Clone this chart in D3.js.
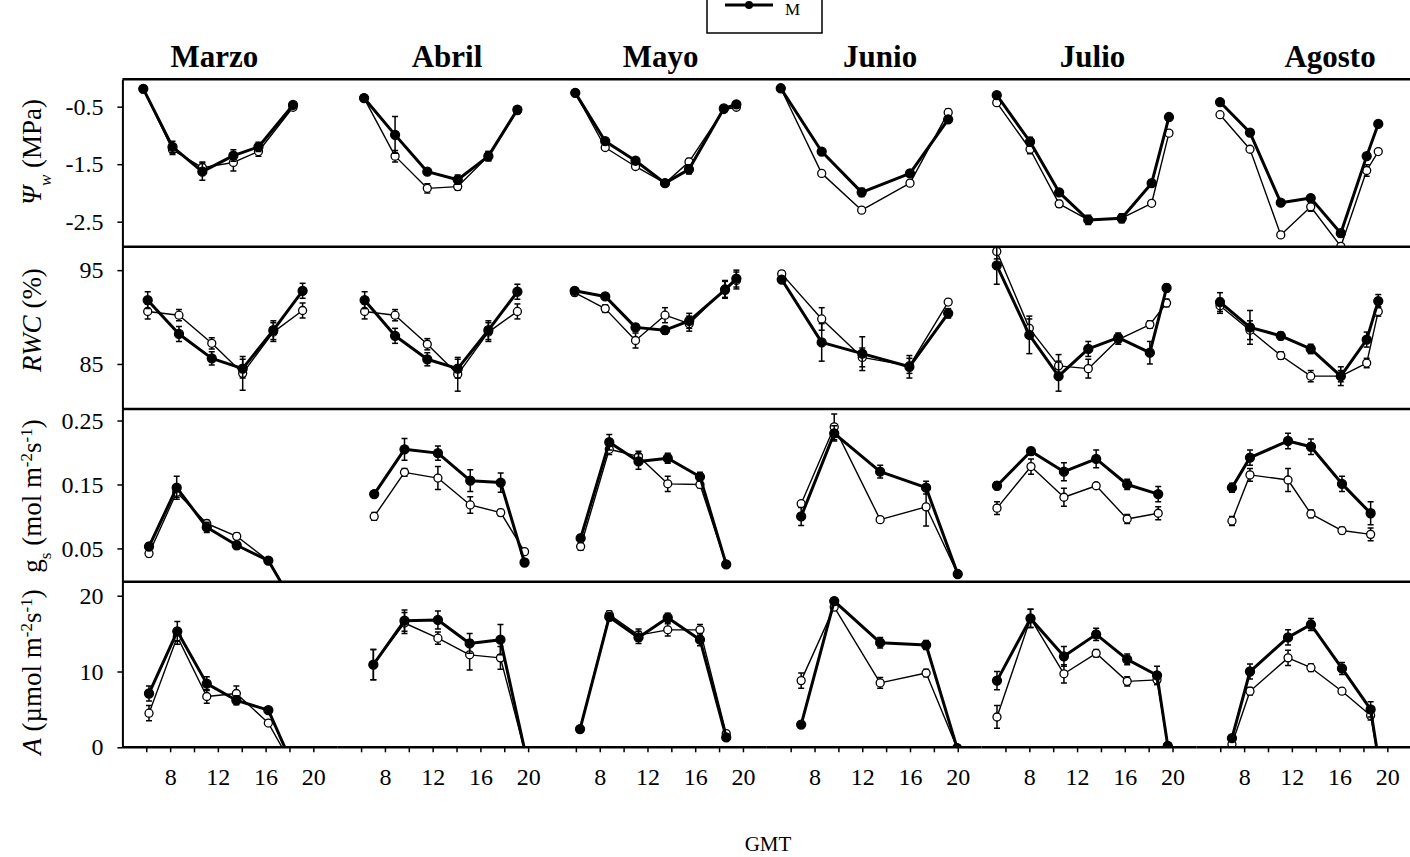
<!DOCTYPE html>
<html>
<head>
<meta charset="utf-8">
<script src="https://cdn.jsdelivr.net/npm/d3@7"></script>
<style>
  body { margin: 0; background: #fff; }
  svg { display: block; font-family: "Liberation Serif", "Times New Roman", serif; }
</style>
</head>
<body>
<div id="chart"></div>
<script>
// months (columns) and where each title sits (hour on that panel's own axis)
const months = ["Marzo", "Abril", "Mayo", "Junio", "Julio", "Agosto"];
const titleHour = [11.7, 13.2, 13.1, 13.5, 13.3, 15.2];

// x ticks (GMT hours)
const hourTicks = [6, 8, 10, 12, 14, 16, 18, 20];
const hourLabels = [8, 12, 16, 20];

// --- water potential (MPa) ---
const psiHours = [
  [5.75, 8.2, 10.7, 13.3, 15.4, 18.3],
  [6.25, 8.85, 11.55, 14.1, 16.67, 19.1],
  [5.95, 8.46, 11.0, 13.47, 15.48, 18.4, 19.45],
  [5.17, 8.6, 11.95, 16.0, 19.2],
  [5.27, 8.06, 10.5, 12.94, 15.74, 18.25, 19.7],
  [5.98, 8.49, 11.07, 13.58, 16.1, 18.27, 19.24]
];
const psiM = [
  [-0.19, -1.2, -1.63, -1.35, -1.2, -0.47],
  [-0.35, -0.99, -1.63, -1.77, -1.36, -0.55],
  [-0.26, -1.1, -1.44, -1.83, -1.59, -0.53, -0.46],
  [-0.18, -1.28, -1.99, -1.66, -0.72],
  [-0.3, -1.11, -1.99, -2.47, -2.44, -1.83, -0.68],
  [-0.42, -0.95, -2.17, -2.09, -2.7, -1.36, -0.8]
];
const psiMErr = [
  [0.04, 0.1, 0.15, 0.1, 0.08, 0.04],
  [0.03, 0.32, 0.05, 0.08, 0.08, 0.05],
  [0.03, 0.04, 0.04, 0.04, 0.08, 0.03, 0.03],
  [0.02, 0.04, 0.07, 0.06, 0.05],
  [0.02, 0.08, 0.05, 0.08, 0.08, 0.05, 0.03],
  [0.02, 0.03, 0.03, 0.05, 0.06, 0.05, 0.03]
];
const psiO = [
  [-0.19, -1.25, -1.56, -1.47, -1.28, -0.51],
  [-0.35, -1.36, -1.92, -1.89, -1.36, -0.57],
  [-0.26, -1.21, -1.54, -1.83, -1.46, -0.55, -0.51],
  [-0.18, -1.66, -2.3, -1.83, -0.6],
  [-0.43, -1.24, -2.19, -2.47, -2.44, -2.18, -0.96],
  [-0.64, -1.24, -2.73, -2.24, -2.93, -1.61, -1.28]
];
const psiOErr = [
  [0.03, 0.08, 0.1, 0.15, 0.08, 0.04],
  [0.03, 0.1, 0.08, 0.06, 0.08, 0.05],
  [0.03, 0.04, 0.04, 0.04, 0.06, 0.03, 0.03],
  [0.02, 0.03, 0.05, 0.05, 0.06],
  [0.02, 0.08, 0.06, 0.06, 0.06, 0.04, 0.03],
  [0.02, 0.03, 0.03, 0.08, 0.04, 0.1, 0.03]
];

// --- relative water content (%) ---
const rwcHours = [
  [6.12, 8.74, 11.49, 14.08, 16.65, 19.1],
  [6.3, 8.85, 11.55, 14.1, 16.67, 19.1],
  [5.9, 8.46, 11.0, 13.47, 15.5, 18.5, 19.45],
  [5.25, 8.6, 12.0, 15.95, 19.2],
  [5.27, 8.0, 10.45, 12.94, 15.45, 18.1, 19.5],
  [5.98, 8.49, 11.07, 13.58, 16.1, 18.27, 19.24]
];
const rwcM = [
  [91.8, 88.2, 85.6, 84.5, 88.6, 92.8],
  [91.8, 88.0, 85.5, 84.5, 88.6, 92.7],
  [92.8, 92.2, 88.9, 88.6, 89.6, 92.9, 94.1],
  [94.0, 87.3, 86.1, 84.7, 90.4],
  [95.5, 88.1, 83.7, 86.6, 87.8, 86.2, 93.1],
  [91.6, 88.9, 88.0, 86.6, 83.7, 87.6, 91.7]
];
const rwcMErr = [
  [0.9, 0.8, 0.7, 1.0, 1.0, 0.8],
  [0.9, 0.8, 0.7, 1.0, 1.0, 0.8],
  [0.3, 0.3, 0.4, 0.4, 0.8, 0.9, 0.9],
  [0.3, 2.0, 1.8, 1.2, 0.5],
  [2.0, 2.0, 1.6, 0.8, 0.5, 1.2, 0.4],
  [1.0, 1.8, 0.4, 0.5, 1.0, 0.8, 0.7]
];
const rwcO = [
  [90.6, 90.2, 87.2, 84.0, 88.4, 90.7],
  [90.6, 90.2, 87.1, 83.9, 88.4, 90.6],
  [92.6, 90.9, 87.5, 90.2, 89.3, 93.0, 93.9],
  [94.6, 89.8, 85.7, 84.8, 91.6],
  [97.0, 88.8, 84.8, 84.5, 87.6, 89.2, 91.5],
  [91.2, 88.6, 85.9, 83.7, 83.7, 85.1, 90.6]
];
const rwcOErr = [
  [0.8, 0.6, 0.6, 1.8, 1.0, 0.8],
  [0.8, 0.6, 0.6, 1.8, 1.0, 0.8],
  [0.3, 0.4, 0.8, 0.8, 0.8, 0.9, 0.9],
  [0.3, 1.2, 1.0, 0.8, 0.3],
  [0.8, 1.0, 1.2, 1.0, 0.5, 0.4, 0.4],
  [0.8, 1.0, 0.4, 0.6, 0.6, 0.5, 0.5]
];

// --- stomatal conductance (mol m-2 s-1) ---
const gsHours = [
  [6.23, 8.55, 11.07, 13.58, 16.23, 18.45],
  [7.1, 9.64, 12.44, 15.15, 17.7, 19.7],
  [6.4, 8.8, 11.25, 13.7, 16.4, 18.6],
  [6.88, 9.65, 13.5, 17.35, 20.0],
  [5.29, 8.14, 10.9, 13.6, 16.2, 18.8],
  [6.98, 8.49, 11.68, 13.6, 16.2, 18.6]
];
const gsM = [
  [0.053, 0.145, 0.083, 0.055, 0.031, -0.04],
  [0.135, 0.205, 0.199, 0.156, 0.153, 0.028],
  [0.066, 0.216, 0.186, 0.191, 0.162, 0.025],
  [0.10, 0.23, 0.17, 0.145, 0.01],
  [0.148, 0.202, 0.17, 0.19, 0.15, 0.135],
  [0.145, 0.192, 0.218, 0.209, 0.151, 0.105]
];
const gsMErr = [
  [0.006, 0.018, 0.008, 0.006, 0.003, 0],
  [0.004, 0.017, 0.011, 0.017, 0.015, 0.005],
  [0.005, 0.012, 0.012, 0.008, 0.007, 0.003],
  [0.014, 0.012, 0.01, 0.01, 0.002],
  [0.006, 0.006, 0.014, 0.014, 0.008, 0.012],
  [0.007, 0.012, 0.012, 0.012, 0.012, 0.018]
];
const gsO = [
  [0.042, 0.138, 0.089, 0.069, 0.031, -0.04],
  [0.10, 0.169, 0.16, 0.118, 0.106, 0.045],
  [0.053, 0.205, 0.194, 0.151, 0.15, 0.025],
  [0.12, 0.24, 0.095, 0.115, 0.01],
  [0.113, 0.178, 0.13, 0.148, 0.096, 0.105],
  [0.093, 0.165, 0.157, 0.104, 0.078, 0.072]
];
const gsOErr = [
  [0.005, 0.008, 0.005, 0.005, 0.003, 0],
  [0.006, 0.006, 0.018, 0.013, 0.005, 0.004],
  [0.006, 0.008, 0.008, 0.012, 0.005, 0.003],
  [0.004, 0.02, 0.004, 0.03, 0.002],
  [0.01, 0.012, 0.014, 0.004, 0.007, 0.01],
  [0.007, 0.01, 0.018, 0.006, 0.005, 0.01]
];

// --- net assimilation (µmol m-2 s-1) ---
const aHours = [
  [6.23, 8.6, 11.07, 13.55, 16.23, 18.45],
  [7.03, 9.64, 12.44, 15.1, 17.68, 19.8],
  [6.35, 8.8, 11.25, 13.7, 16.4, 18.6],
  [6.88, 9.65, 13.5, 17.35, 19.95],
  [5.29, 8.1, 10.9, 13.6, 16.2, 18.7, 19.6],
  [6.98, 8.49, 11.68, 13.6, 16.2, 18.6, 19.3]
];
const aM = [
  [7.1, 15.3, 8.4, 6.2, 4.9, -3],
  [10.9, 16.7, 16.8, 13.7, 14.2, -1],
  [2.4, 17.2, 14.5, 17.1, 14.2, 1.3],
  [3.0, 19.3, 13.8, 13.5, -0.1],
  [8.8, 17.0, 12.0, 14.9, 11.6, 9.5, 0.2],
  [1.2, 10.0, 14.5, 16.2, 10.4, 5.0, -2]
];
const aMErr = [
  [1.0, 1.3, 0.9, 0.6, 0.3, 0],
  [2.0, 1.4, 1.2, 1.3, 2.0, 0],
  [0.3, 0.5, 0.8, 0.6, 0.8, 0.3],
  [0.2, 0.3, 0.7, 0.6, 0.2],
  [1.2, 1.2, 1.3, 0.8, 0.7, 1.2, 0.2],
  [0.4, 1.0, 1.0, 0.8, 0.8, 1.0, 0]
];
const aO = [
  [4.5, 14.6, 6.7, 7.1, 3.2, -3],
  [10.9, 16.4, 14.4, 12.2, 11.8, -1],
  [2.4, 17.5, 14.8, 15.5, 15.5, 1.8],
  [8.8, 18.5, 8.5, 9.8, -0.1],
  [4.0, 17.0, 9.7, 12.4, 8.7, 8.9, 0.2],
  [0.4, 7.4, 11.8, 10.5, 7.4, 4.2, -2]
];
const aOErr = [
  [1.0, 1.0, 0.9, 1.0, 0.3, 0],
  [2.0, 1.4, 0.8, 2.0, 1.5, 0],
  [0.3, 0.5, 0.8, 0.8, 0.7, 0.3],
  [1.0, 0.3, 0.7, 0.5, 0.2],
  [1.5, 1.2, 1.2, 0.5, 0.6, 0.6, 0.2],
  [0.3, 0.5, 1.0, 0.5, 0.4, 0.6, 0]
];

// y ticks per row
const psiTicks = [-0.5, -1.5, -2.5];
const rwcTicks = [85, 95];
const gsTicks = [0.05, 0.15, 0.25];
const aTicks = [0, 10, 20];

// rows table built from the arrays above
const rows = [
  { hours: psiHours, m: psiM, mErr: psiMErr, o: psiO, oErr: psiOErr, domain: [-2.935, -0.024], ticks: psiTicks, fmt: d => d.toFixed(1) },
  { hours: rwcHours, m: rwcM, mErr: rwcMErr, o: rwcO, oErr: rwcOErr, domain: [80.2, 97.5], ticks: rwcTicks, fmt: d => d.toFixed(0) },
  { hours: gsHours, m: gsM, mErr: gsMErr, o: gsO, oErr: gsOErr, domain: [-0.002, 0.268], ticks: gsTicks, fmt: d => d.toFixed(2) },
  { hours: aHours, m: aM, mErr: aMErr, o: aO, oErr: aOErr, domain: [0, 21.85], ticks: aTicks, fmt: d => d.toFixed(0) }
];

const width = 1410, height = 857;
const plotLeft = 122.4, panelW = 214.8;
const rowTops = [79.3, 246.7, 409, 581.7];
const plotBottom = 747.3;

const svg = d3.select("#chart").append("svg")
  .attr("width", width)
  .attr("height", height);

const x = d3.scaleLinear().domain([4, 22]).range([0, panelW]);

// month titles
months.forEach((name, m) => {
  svg.append("text")
    .attr("x", plotLeft + m * panelW + x(titleHour[m]))
    .attr("y", 67)
    .attr("text-anchor", "middle")
    .style("font-size", "31px")
    .style("font-weight", "bold")
    .text(name);
});

rows.forEach((row, r) => {
  const top = rowTops[r];
  const bottom = r < 3 ? rowTops[r + 1] : plotBottom;
  const h = bottom - top;
  const y = d3.scaleLinear().domain(row.domain).range([h, 0]);

  const rowG = svg.append("g").attr("transform", `translate(0,${top})`);

  // clip for the whole row
  const clipId = `clip-row-${r}`;
  rowG.append("clipPath").attr("id", clipId)
    .append("rect")
    .attr("x", plotLeft).attr("y", 0)
    .attr("width", width - plotLeft).attr("height", h);

  // left axis
  rowG.append("g")
    .attr("transform", `translate(${plotLeft},0)`)
    .call(d3.axisLeft(y).tickValues(row.ticks).tickFormat(row.fmt).tickSize(5).tickSizeOuter(0))
    .call(g => g.select(".domain").attr("stroke-width", 2))
    .call(g => g.selectAll(".tick line").attr("stroke-width", 1.5))
    .call(g => g.selectAll(".tick text")
      .attr("x", -19)
      .style("font-family", "'Liberation Serif', serif")
      .style("font-size", "24px")
      .attr("fill", "#000"));

  // top border of this row
  rowG.append("line")
    .attr("x1", plotLeft).attr("x2", width)
    .attr("y1", 0).attr("y2", 0)
    .attr("stroke", "#000")
    .attr("stroke-width", 2.5);

  const plotArea = rowG.append("g").attr("clip-path", `url(#${clipId})`);

  months.forEach((mName, m) => {
    const g = plotArea.append("g").attr("transform", `translate(${plotLeft + m * panelW},0)`);
    const hrs = row.hours[m];

    const series = [
      { vals: row.o[m], errs: row.oErr[m], filled: false },
      { vals: row.m[m], errs: row.mErr[m], filled: true }
    ];

    series.forEach(s => {
      const pts = hrs.map((t, i) => ({ t, v: s.vals[i], e: s.errs[i] }));

      const line = d3.line().x(d => x(d.t)).y(d => y(d.v));
      g.append("path")
        .datum(pts)
        .attr("fill", "none")
        .attr("stroke", "#000")
        .attr("stroke-width", s.filled ? 3 : 1.4)
        .attr("stroke-linejoin", "round")
        .attr("d", line);

      // error bars
      const eb = g.append("g").attr("stroke", "#000").attr("stroke-width", 1.5);
      pts.filter(d => d.e > 0).forEach(d => {
        const cx = x(d.t);
        eb.append("line").attr("x1", cx).attr("x2", cx).attr("y1", y(d.v - d.e)).attr("y2", y(d.v + d.e));
        eb.append("line").attr("x1", cx - 3).attr("x2", cx + 3).attr("y1", y(d.v - d.e)).attr("y2", y(d.v - d.e));
        eb.append("line").attr("x1", cx - 3).attr("x2", cx + 3).attr("y1", y(d.v + d.e)).attr("y2", y(d.v + d.e));
      });

      g.selectAll(null)
        .data(pts)
        .enter()
        .append("circle")
        .attr("cx", d => x(d.t))
        .attr("cy", d => y(d.v))
        .attr("r", s.filled ? 4.5 : 4)
        .attr("fill", s.filled ? "#000" : "#fff")
        .attr("stroke", "#000")
        .attr("stroke-width", 1.3);
    });
  });
});

// bottom axis, one per month
months.forEach((mName, m) => {
  svg.append("g")
    .attr("transform", `translate(${plotLeft + m * panelW},${plotBottom})`)
    .call(d3.axisBottom(x).tickValues(hourTicks)
      .tickFormat(d => hourLabels.includes(d) ? d : "")
      .tickSize(5).tickSizeOuter(0))
    .call(g => g.select(".domain").attr("stroke-width", 2.5).attr("d", `M0,0H${panelW}`))
    .call(g => g.selectAll(".tick line").attr("stroke-width", 1.5))
    .call(g => g.selectAll(".tick text")
      .attr("y", 21)
      .style("font-family", "'Liberation Serif', serif")
      .style("font-size", "24px")
      .attr("fill", "#000"));
});

// y axis titles
const yLabels = [
  { cy: 152, parts: [["Ψ", "i"], ["w", "i-sub"], [" (MPa)", ""]] },
  { cy: 320, parts: [["RWC", "i"], [" (%)", ""]] },
  { cy: 496, parts: [["g", ""], ["s", "sub"], [" (mol m", ""], ["-2", "sup"], ["s", ""], ["-1", "sup"], [")", ""]] },
  { cy: 672, parts: [["A", "i"], [" (µmol m", ""], ["-2", "sup"], ["s", ""], ["-1", "sup"], [")", ""]] }
];
yLabels.forEach(lab => {
  const t = svg.append("text")
    .attr("transform", `translate(41,${lab.cy}) rotate(-90)`)
    .attr("text-anchor", "middle")
    .style("font-size", "27px");
  lab.parts.forEach(([txt, kind]) => {
    const sp = t.append("tspan").text(txt);
    if (kind.startsWith("i")) sp.style("font-style", "italic");
    if (kind.endsWith("sub")) sp.attr("baseline-shift", "sub").style("font-size", "17px");
    if (kind === "sup") sp.attr("baseline-shift", "super").style("font-size", "17px");
  });
});

// x axis title
svg.append("text")
  .attr("x", 768)
  .attr("y", 851)
  .attr("text-anchor", "middle")
  .style("font-size", "21px")
  .text("GMT");

// legend box (top part falls outside the page)
const legend = svg.append("g");
legend.append("rect")
  .attr("x", 707).attr("y", -40)
  .attr("width", 115).attr("height", 73)
  .attr("fill", "#fff")
  .attr("stroke", "#000")
  .attr("stroke-width", 1.5);
legend.append("line")
  .attr("x1", 725).attr("x2", 773)
  .attr("y1", 5).attr("y2", 5)
  .attr("stroke", "#000")
  .attr("stroke-width", 3);
legend.append("circle")
  .attr("cx", 749).attr("cy", 5).attr("r", 4)
  .attr("fill", "#000");
legend.append("text")
  .attr("x", 785).attr("y", 15)
  .style("font-size", "17px")
  .text("M");
</script>
</body>
</html>
